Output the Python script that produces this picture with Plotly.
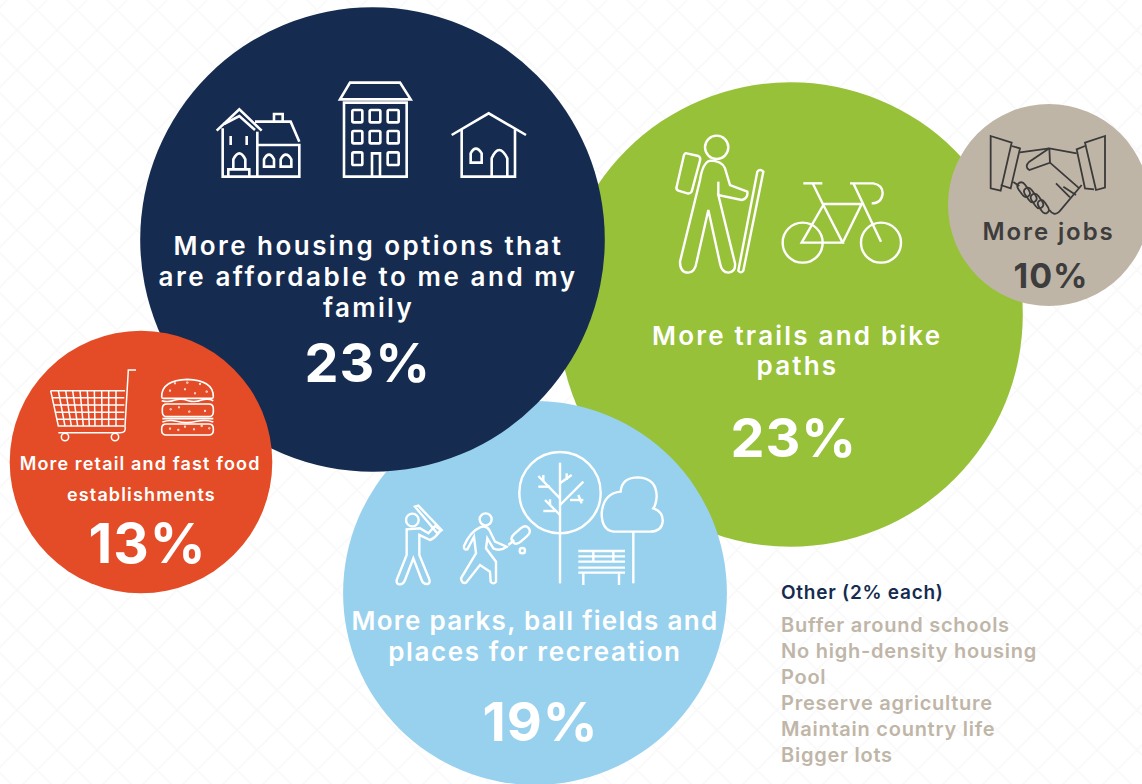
import re
import json
import math
import plotly.graph_objects as go

# ---------- data ----------
categories = ["More trails and bike paths", "More jobs",
              "More parks, ball fields and places for recreation",
              "More housing options that are affordable to me and my family",
              "More retail and fast food establishments"]
values = [23, 10, 19, 23, 13]
center_x = [790.5, 1049, 535, 372.5, 141]
center_y = [314.5, 205, 593, 239.5, 462]
colors = ["#98c13a", "#bfb5a6", "#98d1ee", "#152b4f", "#e34c26"]

other_title = "Other (2% each)"
other_items = ["Buffer around schools", "No high-density housing", "Pool",
               "Preserve agriculture", "Maintain country life", "Bigger lots"]
other_x = [781, 781, 781, 781, 781, 781]
other_y = [627, 653, 679, 705, 731, 757]

# text, x, y, colour, size, letter-spacing px
label_lines = [
    ("More housing options that", 368, 245, "#ffffff", 26, 2.45),
    ("are affordable to me and my", 368, 276, "#ffffff", 26, 2.55),
    ("family", 368, 307, "#ffffff", 26, 2.3),
    ("More trails and bike", 797, 335, "#ffffff", 26, 2.2),
    ("paths", 797, 365, "#ffffff", 26, 2.2),
    ("More parks, ball fields and", 535, 620, "#ffffff", 26, 1.3),
    ("places for recreation", 535, 651, "#ffffff", 26, 1.6),
    ("More jobs", 1048, 231, "#3d3d3d", 24, 1.9),
]
small_lines = [("More retail and fast food", 140, 463), ("establishments", 141, 494)]
percent_labels = [("23%", 368, 362, 54, "#ffffff"), ("23%", 794, 437, 54, "#ffffff"),
                  ("19%", 540, 721, 54, "#ffffff"), ("13%", 147, 543, 55, "#ffffff"),
                  ("10%", 1051, 275, 34, "#3d3d3d")]

FONT = "Inter"
W, H = 1142, 784

fig = go.Figure()
fig.add_trace(go.Scatter(
    x=center_x, y=center_y, mode="markers", text=categories,
    marker=dict(size=values, sizemode="diameter", sizeref=1 / 20.2,
                color=colors, opacity=1, line=dict(width=0)),
    hovertemplate="%{text}: %{marker.size}%<extra></extra>", showlegend=False))
fig.add_trace(go.Scatter(
    x=other_x[:1], y=[594], mode="text", text=[other_title], textposition="middle right",
    textfont=dict(family=FONT, size=19, color="#152b4f", weight=600),
    hoverinfo="skip", showlegend=False))
fig.add_trace(go.Scatter(
    x=other_x, y=other_y, mode="text", text=other_items, textposition="middle right",
    textfont=dict(family=FONT, size=20, color="#c0b6a8", weight=600),
    hoverinfo="skip", showlegend=False))


# ---------- decoration helpers (zoom-crop coords -> page px) ----------
def tf(ox, oy, d):
    nums = iter(re.findall(r"[A-Za-z]|-?\d+\.?\d*", d))
    out = []
    isx = True
    for t in nums:
        if t.isalpha():
            out.append(t)
            isx = True
        else:
            v = float(t) / 3 + (ox if isx else oy)
            out.append(f"{v:.2f}")
            isx = not isx
    return " ".join(out)


def circ(cx, cy, r, ry=None):
    ry = ry or r
    k = 0.5523
    return (f"M{cx-r} {cy} C{cx-r} {cy-k*ry} {cx-k*r} {cy-ry} {cx} {cy-ry} "
            f"C{cx+k*r} {cy-ry} {cx+r} {cy-k*ry} {cx+r} {cy} "
            f"C{cx+r} {cy+k*ry} {cx+k*r} {cy+ry} {cx} {cy+ry} "
            f"C{cx-k*r} {cy+ry} {cx-r} {cy+k*ry} {cx-r} {cy} Z")


def rrect(x0, y0, x1, y1, r):
    return (f"M{x0+r} {y0} L{x1-r} {y0} Q{x1} {y0} {x1} {y0+r} L{x1} {y1-r} Q{x1} {y1} {x1-r} {y1} "
            f"L{x0+r} {y1} Q{x0} {y1} {x0} {y1-r} L{x0} {y0+r} Q{x0} {y0} {x0+r} {y0} Z")


def capsule(x0, y0, x1, y1, hw):
    dx, dy = x1 - x0, y1 - y0
    n = math.hypot(dx, dy)
    ux, uy = dx / n, dy / n
    px, py = -uy * hw, ux * hw
    a = (x0 + px, y0 + py)
    b = (x1 + px, y1 + py)
    c = (x1 - px, y1 - py)
    e = (x0 - px, y0 - py)
    tip1 = (x1 + ux * hw * 1.3, y1 + uy * hw * 1.3)
    tip0 = (x0 - ux * hw * 1.3, y0 - uy * hw * 1.3)
    return (f"M{a[0]:.1f} {a[1]:.1f} L{b[0]:.1f} {b[1]:.1f} Q{tip1[0]+px:.1f} {tip1[1]+py:.1f} {tip1[0]:.1f} {tip1[1]:.1f} "
            f"Q{tip1[0]-px:.1f} {tip1[1]-py:.1f} {c[0]:.1f} {c[1]:.1f} L{e[0]:.1f} {e[1]:.1f} "
            f"Q{tip0[0]-px:.1f} {tip0[1]-py:.1f} {tip0[0]:.1f} {tip0[1]:.1f} "
            f"Q{tip0[0]+px:.1f} {tip0[1]+py:.1f} {a[0]:.1f} {a[1]:.1f} Z")


shapes = []


def icon(ox, oy, paths, color="#ffffff", width=2.4):
    for d in paths:
        shapes.append(dict(type="path", path=tf(ox, oy, d), xref="x", yref="y",
                           line=dict(color=color, width=width), layer="above"))


# background lattice
lat = []
for k in range(-2, 52):
    c = 47 + 40 * k
    lat.append(f"M{c+5} -5 L-5 {c+5}")
for k in range(-22, 32):
    c = 27 + 40 * k
    lat.append(f"M{c-5} -5 L{c+800} 800")
shapes.append(dict(type="path", path=" ".join(lat), xref="x", yref="y",
                   line=dict(color="#f9f9f9", width=1.6), layer="below"))

# houses
icon(200, 70, [
    "M50 182 L118 118 L185 182", "M72 162 L118 138 L165 180",
    "M68 175 L68 320 L298 320 L298 225 L172 225", "M172 185 L172 320",
    "M165 155 L272 155 L298 215", "M222 155 L222 132 L248 132 L248 155",
    "M92 198 L92 225", "M140 198 L140 225",
    "M100 298 L100 268 Q118 232 136 268 L136 298", "M85 318 L85 298 L148 298 L148 318",
    "M192 290 L192 268 Q207 240 222 268 L222 290 Z", "M242 290 L242 268 Q257 240 274 268 L274 290 Z",
    "M420 88 L450 38 L600 38 L632 88 Z", "M432 98 L432 320 L620 320 L620 98 Z",
    rrect(457, 120, 487, 157, 4), rrect(509, 120, 541, 157, 4), rrect(563, 120, 596, 157, 4),
    rrect(457, 183, 487, 220, 4), rrect(509, 183, 541, 220, 4), rrect(563, 183, 596, 220, 4),
    rrect(457, 247, 487, 285, 4), rrect(563, 247, 596, 285, 4),
    "M516 320 L516 250 L540 250 L540 320",
    "M755 195 L866 130 L978 195", "M785 178 L785 320 L945 320 L945 178",
    "M812 278 L812 250 Q827 222 845 250 L845 278 Z", "M875 320 L875 265 Q897 215 922 265 L922 320",
], width=2.6)

# hiker + bicycle
icon(660, 120, [
    circ(170, 82, 35),
    "M150 122 Q128 128 120 180 L60 425 Q60 458 85 458 Q105 458 110 425 L145 270 L180 430 "
    "Q185 458 205 458 Q228 455 225 430 L175 225 L245 240 Q265 235 262 215 L210 195 L195 145 Q185 122 150 122",
    "M175 185 L175 225",
    "M80 100 L115 108 Q123 112 120 122 L95 215 Q90 222 82 220 L55 212 Q47 208 50 200 L72 105 Q75 99 80 100 Z",
    "M292 155 Q300 145 310 155 L250 452 Q243 462 235 452 Z",
    circ(428, 368, 60), circ(663, 368, 60),
    "M430 190 L487 190", "M458 190 L490 255 L548 368 L425 368 L490 255",
    "M490 252 L605 252 L548 368", "M580 190 L663 365",
    "M570 190 L640 190 Q668 195 668 220 Q665 250 635 250",
], width=2.4)

# handshake
icon(970, 120, [
    "M62 48 L125 68 L92 212 L62 205 Z", "M125 78 L150 85 L122 205 L92 195",
    "M405 48 L345 68 L378 210 L405 203 Z", "M345 78 L320 88 L345 205 L372 208",
    "M150 97 L238 85 L320 100",
    "M238 85 L178 125 Q162 140 178 150 L240 128 L328 205",
    "M238 85 L240 128",
    "M130 186 L148 198", "M335 195 L268 275 Q252 290 238 270",
    "M258 190 L300 232", "M280 200 L318 225",
    capsule(156, 202, 166, 216, 12), capsule(176, 218, 186, 232, 12),
    capsule(196, 236, 206, 250, 12), capsule(216, 254, 224, 266, 11),
], color="#3a3a3a", width=1.8)

# shopping cart + burger
cart = ["M318 30 L295 30 L285 200 Q290 218 270 218 L85 218",
        "M62 92 L285 92", "M62 92 L85 198 L282 198", circ(105, 231, 11), circ(255, 231, 11)]
for xt, xb in zip([85, 107, 128, 150, 172, 193, 215, 236, 258], [105, 124, 143, 160, 178, 195, 216, 236, 258]):
    cart.append(f"M{xt} 92 L{xb} 198")
for yy, xl in zip([113, 135, 157, 178], [67, 72, 76, 81]):
    cart.append(f"M{xl} {yy} L283 {yy}")
icon(30, 360, cart, width=1.5)
burger = ["M395 110 Q395 60 472 58 Q550 60 550 110 Q550 115 545 115 L400 115 Q395 115 395 110 Z",
          "M395 122 Q415 128 435 120 Q455 115 475 122 Q495 128 515 120 Q535 115 550 122",
          rrect(397, 132, 550, 170, 14),
          "M397 176 L550 176",
          "M397 186 Q420 178 440 184 Q470 192 500 184 Q530 178 550 186",
          rrect(395, 192, 550, 225, 14)]
for sx, sy in [(435, 70), (472, 68), (510, 72), (420, 92), (465, 88), (530, 95), (495, 100),
               (422, 148), (447, 142), (478, 155), (525, 153), (420, 206), (445, 210), (465, 200),
               (492, 208), (515, 198), (538, 205)]:
    burger.append(circ(sx, sy, 1))
icon(30, 360, burger, width=1.6)

# sports + trees + bench
icon(380, 440, [
    circ(97, 240, 19),
    "M105 200 L115 197 L185 270 L172 280 Z",
    "M80 268 L80 345 L50 420 Q48 433 60 433 Q70 433 75 420 L100 355 L125 420 Q130 433 142 432 Q152 430 148 418 "
    "L118 345 L118 285 L150 300 Q165 295 182 270 L165 258 L145 280 L120 265 Z",
    circ(317, 238, 18),
    "M300 262 Q270 275 252 318 Q250 330 262 328 L282 290 L288 340 L243 415 Q245 432 258 428 L300 375 "
    "L330 395 L332 425 Q340 435 348 425 L348 365 L318 325 L322 295 L340 325 Q360 335 380 320 L345 305 L328 270 Q318 255 300 262 Z",
    capsule(413, 293, 431, 277, 15), "M385 315 L403 300", circ(427, 332, 8),
    circ(540, 158, 122), "M540 68 L540 430",
    "M540 175 L475 108", "M475 140 L510 140", "M490 105 L490 125",
    "M540 130 L575 105", "M560 120 L560 100", "M540 195 L610 125", "M570 180 L610 180", "M595 165 L605 190",
    "M540 225 L495 180", "M490 213 L525 213", "M510 178 L510 195",
    "M760 275 L700 275 Q665 270 665 220 Q670 160 722 155 Q725 112 775 112 Q830 115 830 170 Q828 195 820 205 "
    "Q850 215 848 245 Q845 275 810 275 Z", "M760 275 L760 430",
    "M595 333 L735 333", "M595 349 L735 349", "M595 365 L735 365", "M595 383 L735 383", "M595 398 L735 398",
    "M610 400 L610 435", "M717 400 L717 435", "M640 333 L640 365", "M700 333 L700 365",
], width=2.4)

# ---------- text ----------
ann = []
spacing = []


def txt(s, x, y, size, color, weight, ls=0):
    spacing.append(ls)
    ann.append(dict(text=s, x=x, y=y, xref="x", yref="y", showarrow=False, xanchor="center", yanchor="middle",
                    font=dict(family=FONT, size=size, color=color, weight=weight)))


for s, x, y, c, sz, ls in label_lines:
    txt(s, x, y, sz, c, 600, ls)
for s, x, y in small_lines:
    txt(s, x, y, 18, "#ffffff", 600, 1.15)
for s, x, y, sz, c in percent_labels:
    txt(s, x, y, sz, c, 700, 1)

fig.update_layout(
    width=W, height=H, margin=dict(l=0, r=0, t=0, b=0),
    paper_bgcolor="#ffffff", plot_bgcolor="#ffffff",
    xaxis=dict(range=[0, W], visible=False, fixedrange=True),
    yaxis=dict(range=[H, 0], visible=False, fixedrange=True),
    shapes=shapes, annotations=ann, showlegend=False,
)

css = "body{margin:0;overflow:hidden}.textpoint text{letter-spacing:.75px}" + "".join(
    f'.annotation[data-index="{i}"] text{{letter-spacing:{v}px}}' for i, v in enumerate(spacing))
post = ("var st=document.createElement('style');st.textContent=" + json.dumps(css) +
        ";document.head.appendChild(st);Plotly.redraw(document.getElementById('{plot_id}'));")
fig.write_html("out.html", config=dict(displayModeBar=False, responsive=False), post_script=post)
